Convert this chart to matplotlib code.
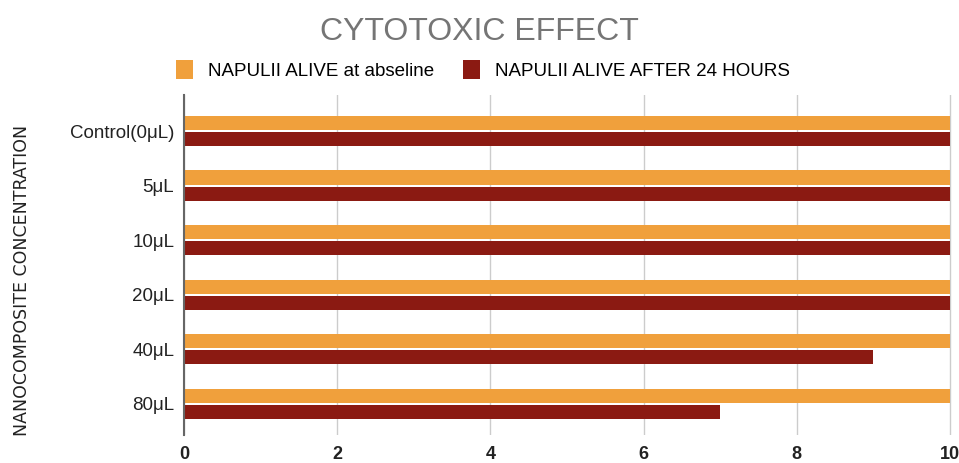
import numpy as np
from matplotlib import pyplot as plt

categories = ['Control(0μL)', '5μL', '10μL', '20μL', '40μL', '80μL']
alive_baseline = [10, 10, 10, 10, 10, 10]
alive_24h = [10, 10, 10, 10, 9, 7]
series_names = ['NAPULII ALIVE at abseline', 'NAPULII ALIVE AFTER 24 HOURS']
xticks = [0, 2, 4, 6, 8, 10]

plt.rcParams['font.family'] = ['Liberation Sans', 'DejaVu Sans']

fig = plt.figure(figsize=(9.59, 4.63), dpi=100)
ax = fig.add_axes([184 / 959, 1 - 435 / 463, 1 - 184 / 959, (435 - 95) / 463])

y = np.arange(len(categories))
h = 0.26
ax.barh(y - 0.148, alive_baseline, height=h, color='#F0A03C', label=series_names[0], zorder=3)
ax.barh(y + 0.148, alive_24h, height=h, color='#8B1A12', label=series_names[1], zorder=3)

ax.set_xlim(0, 10.117)
ax.set_ylim(5.57, -0.66)
ax.set_xticks(xticks)
ax.set_xticklabels([str(t) for t in xticks], fontsize=13, fontweight='bold', color='#222222')
ax.set_yticks(y)
ax.set_yticklabels(categories, fontsize=13.5, color='#222222')
ax.tick_params(axis='y', length=0, pad=7)
ax.tick_params(axis='x', length=0, pad=8)
ax.grid(axis='x', color='#CCCCCC', lw=1, zorder=0)
for s in ['top', 'right', 'bottom']:
    ax.spines[s].set_visible(False)
ax.spines['left'].set_color('#666666')
ax.spines['left'].set_linewidth(1.5)
ax.spines['left'].set_zorder(4)

fig.text(0.5, 1 - 32 / 463, 'CYTOTOXIC EFFECT', ha='center', va='center',
         fontsize=23, color='#757575')
fig.text(22 / 959, 1 - 280 / 463, 'NANOCOMPOSITE CONCENTRATION', rotation=90,
         ha='center', va='center', fontsize=12.5, color='#222222',
         family=['Liberation Sans Narrow', 'DejaVu Sans'])
fig.legend(loc='center', bbox_to_anchor=(483 / 959, 1 - 70 / 463), ncol=2, frameon=False,
           fontsize=13.5, handlelength=0.95, handleheight=1.2, columnspacing=1.5,
           handletextpad=0.8)

plt.savefig('out.png', dpi=100)
plt.close()
